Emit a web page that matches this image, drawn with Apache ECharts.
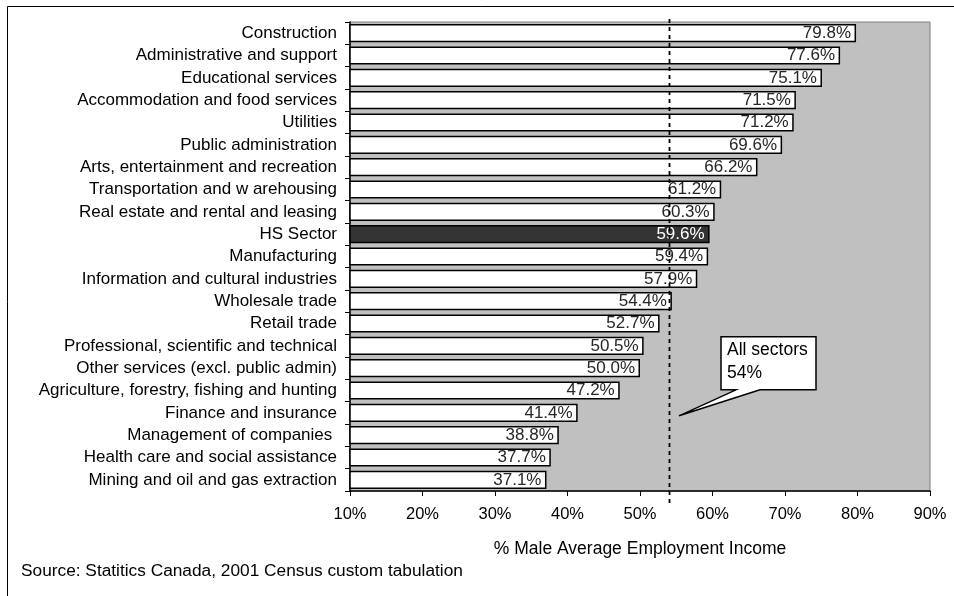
<!DOCTYPE html>
<html>
<head>
<meta charset="utf-8">
<title>Female earnings as % of male, by sector</title>
<script src="https://cdn.jsdelivr.net/npm/echarts@6/dist/echarts.min.js"></script>
<style>
  html, body { margin: 0; padding: 0; background: #ffffff; }
  #chart { width: 954px; height: 596px; }
</style>
</head>
<body>
<div id="chart"></div>
<script>
// Sectors, top to bottom
const sectors = [
  'Construction',
  'Administrative and support',
  'Educational services',
  'Accommodation and food services',
  'Utilities',
  'Public administration',
  'Arts, entertainment and recreation',
  'Transportation and w arehousing',
  'Real estate and rental and leasing',
  'HS Sector',
  'Manufacturing',
  'Information and cultural industries',
  'Wholesale trade',
  'Retail trade',
  'Professional, scientific and technical',
  'Other services (excl. public admin)',
  'Agriculture, forestry, fishing and hunting',
  'Finance and insurance',
  'Management of companies ',
  'Health care and social assistance',
  'Mining and oil and gas extraction'
];

// Female average employment income as % of male
const ratios = [79.8, 77.6, 75.1, 71.5, 71.2, 69.6, 66.2, 61.2, 60.3, 59.6, 59.4,
                57.9, 54.4, 52.7, 50.5, 50.0, 47.2, 41.4, 38.8, 37.7, 37.1];

// Highlighted sector
const highlight = 'HS Sector';

// Average across all sectors
const allSectors = [54];
const allSectorsLabel = ['All sectors', '54%'];

// X axis
const axisMin = 10, axisMax = 90, axisStep = 10;
const axisTitle = '% Male Average Employment Income';
const sourceNote = 'Source: Statitics Canada, 2001 Census custom tabulation';

const FONT = 'Arial, "Liberation Sans", sans-serif';

const chart = echarts.init(document.getElementById('chart'), null, { renderer: 'canvas' });

const barData = ratios.map((v, i) => {
  const isHL = sectors[i] === highlight;
  return {
    value: v,
    itemStyle: { color: isHL ? '#333333' : '#ffffff' },
    label: { color: isHL ? '#ffffff' : '#262626' }
  };
});

const option = {
  backgroundColor: '#ffffff',
  animation: false,
  textStyle: { fontFamily: FONT },
  grid: {
    left: 350, right: 24, top: 22, bottom: 105,
    show: true,
    backgroundColor: '#c0c0c0',
    borderColor: '#808080',
    borderWidth: 1
  },
  xAxis: {
    type: 'value',
    min: axisMin, max: axisMax, interval: axisStep,
    name: axisTitle,
    nameLocation: 'middle',
    nameGap: 49,
    nameTextStyle: { color: '#000', fontSize: 17.5, fontFamily: FONT },
    axisLine: { show: true, lineStyle: { color: '#000', width: 1.5 } },
    axisTick: { show: true, length: 5, lineStyle: { color: '#000' } },
    axisLabel: { color: '#000', fontSize: 16.5, margin: 15, fontFamily: FONT, formatter: '{value}%' },
    splitLine: { show: false }
  },
  yAxis: {
    type: 'category',
    data: sectors,
    inverse: true,
    axisLine: { show: true, lineStyle: { color: '#000', width: 1.5 } },
    axisTick: { show: true, length: 5, lineStyle: { color: '#000' } },
    axisLabel: { color: '#000', fontSize: 17, margin: 13, fontFamily: FONT },
    splitLine: { show: false }
  },
  series: [
    {
      type: 'bar',
      data: barData,
      barCategoryGap: '19%',
      itemStyle: { borderColor: '#000', borderWidth: 1.5 },
      label: {
        show: true,
        position: 'insideRight',
        distance: 5,
        fontSize: 17,
        fontFamily: FONT,
        formatter: p => p.value.toFixed(1) + '%'
      },
      z: 2
    },
    {
      // dashed reference line for the all-sector average
      type: 'custom',
      coordinateSystem: 'cartesian2d',
      data: allSectors.map(v => [v, 0]),
      encode: { x: 0, y: 1 },
      z: 5,
      silent: true,
      renderItem: (params, api) => {
        const cs = params.coordSys;
        const x = Math.round(api.coord([api.value(0), 0])[0]) + 0.5;
        return {
          type: 'line',
          shape: { x1: x, y1: cs.y - 3, x2: x, y2: cs.y + cs.height + 12 },
          style: { stroke: '#000', lineWidth: 1.8, lineDash: [4, 4] }
        };
      }
    },
    {
      // callout box pointing at the average line
      type: 'custom',
      coordinateSystem: 'cartesian2d',
      data: allSectors.map(v => [v, sectors.indexOf('Finance and insurance')]),
      encode: { x: 0, y: 1 },
      z: 6,
      silent: true,
      renderItem: (params, api) => {
        const p = api.coord([api.value(0), api.value(1)]);
        const tx = p[0] + 10, ty = p[1] + 3;
        const L = tx + 42, R = tx + 137, T = ty - 79, B = ty - 26;
        return {
          type: 'group',
          children: [
            {
              type: 'polygon',
              shape: { points: [[L, T], [R, T], [R, B], [tx + 81, B], [tx, ty], [tx + 57, B], [L, B]] },
              style: { fill: '#ffffff', stroke: '#000', lineWidth: 1.5 }
            },
            {
              type: 'text',
              style: {
                text: allSectorsLabel.join('\n'),
                x: L + 6, y: T + 2,
                font: '17.5px ' + FONT,
                lineHeight: 23,
                fill: '#000'
              }
            }
          ]
        };
      }
    }
  ],
  graphic: [
    {
      type: 'rect',
      silent: true,
      shape: { x: 7.5, y: 6.5, width: 1000, height: 1000 },
      style: { fill: 'none', stroke: '#000', lineWidth: 1 }
    },
    {
      type: 'text',
      left: 21, top: 563,
      silent: true,
      style: { text: sourceNote, font: '17.3px ' + FONT, fill: '#000' }
    }
  ]
};

chart.setOption(option);
</script>
</body>
</html>
